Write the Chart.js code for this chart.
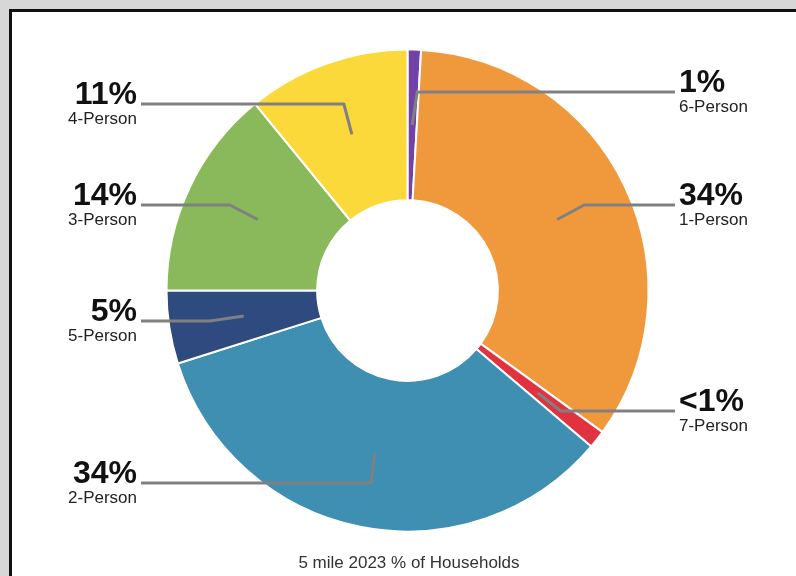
<!DOCTYPE html>
<html>
<head>
<meta charset="utf-8">
<script src="https://cdn.jsdelivr.net/npm/chart.js@4/dist/chart.umd.min.js"></script>
<style>
    html, body { margin: 0; padding: 0; background: #d7d7d7; overflow: hidden; }
    .frame {
        position: absolute; left: 9px; top: 9px; right: 0; bottom: 0;
        background: #fff;
        border-left: 3px solid #111;
        border-top: 3px solid #111;
    }
    #householdChart { position: absolute; left: 0; top: 0; }
</style>
</head>
<body>
<div class="frame"></div>
<canvas id="householdChart" width="796" height="576"></canvas>
<script>
// Household size split, clockwise from the top
const categories = ['6-Person', '1-Person', '7-Person', '2-Person', '5-Person', '3-Person', '4-Person'];
const shares = [0.9, 34.1, 1.2, 33.9, 4.9, 14.1, 10.9];
const pctLabels = ['1%', '34%', '<1%', '34%', '5%', '14%', '11%'];
const caption = '5 mile 2023 % of Households';

const sliceColors = ['#7143a6', '#f0983c', '#e0323f', '#3e8fb1', '#2e4a7e', '#89b95a', '#fcd93a'];

// where each label sits and where its leader line bends
const labelLayout = [
    { side: 'right', lineY: 92, bend: 5 },
    { side: 'right', lineY: 205, bend: 27 },
    { side: 'right', lineY: 411, bend: 23 },
    { side: 'left', lineY: 483, bend: -4 },
    { side: 'left', lineY: 321, bend: -34 },
    { side: 'left', lineY: 205, bend: -28 },
    { side: 'left', lineY: 104, bend: -8 }
];

const leaderLabels = {
    id: 'leaderLabels',
    afterDatasetsDraw(chart) {
        const ctx = chart.ctx;
        const arcs = chart.getDatasetMeta(0).data;
        ctx.save();

        arcs.forEach((arc, i) => {
            const lay = labelLayout[i];
            const c = arc.tooltipPosition();
            const bendX = c.x + lay.bend;
            const textEdge = lay.side === 'left' ? 141 : 675;

            ctx.strokeStyle = '#808080';
            ctx.lineWidth = 3;
            ctx.lineJoin = 'round';
            ctx.beginPath();
            ctx.moveTo(textEdge, lay.lineY);
            ctx.lineTo(bendX, lay.lineY);
            ctx.lineTo(c.x, c.y);
            ctx.stroke();

            const tx = lay.side === 'left' ? 137 : 679;
            ctx.textAlign = lay.side === 'left' ? 'right' : 'left';
            ctx.textBaseline = 'alphabetic';
            ctx.fillStyle = '#111';
            ctx.font = 'bold 32px "Liberation Sans", Arial, sans-serif';
            ctx.fillText(pctLabels[i], tx, lay.lineY);
            ctx.fillStyle = '#222';
            ctx.font = '17px "Liberation Sans", Arial, sans-serif';
            ctx.fillText(categories[i], tx, lay.lineY + 20);
        });

        ctx.textAlign = 'center';
        ctx.fillStyle = '#333';
        ctx.font = '17px "Liberation Sans", Arial, sans-serif';
        ctx.fillText(caption, 409, 568);
        ctx.restore();
    }
};

const ctx = document.getElementById('householdChart').getContext('2d');
new Chart(ctx, {
    type: 'doughnut',
    data: {
        labels: categories,
        datasets: [{
            data: shares,
            backgroundColor: sliceColors,
            borderColor: '#ffffff',
            borderWidth: 2
        }]
    },
    options: {
        responsive: false,
        animation: false,
        radius: 241,
        cutout: '37.5%',
        layout: { padding: { left: 19, right: 0, top: 5, bottom: 0 } },
        events: [],
        plugins: {
            legend: { display: false },
            tooltip: { enabled: false }
        }
    },
    plugins: [leaderLabels]
});
</script>
</body>
</html>
